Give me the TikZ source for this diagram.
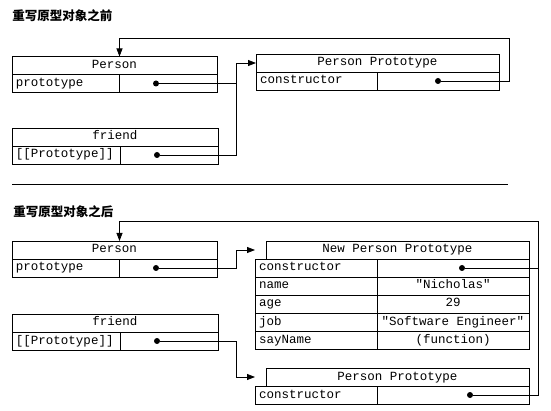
\documentclass[tikz,border=0pt]{standalone}
\usepackage{fontspec}
\setmonofont{Liberation Mono}
\newfontfamily\cjk{Noto Sans CJK SC}
\usetikzlibrary{positioning,arrows.meta}
\newcommand\cellfont{\ttfamily\fontsize{12.5}{14}\selectfont}
\tikzset{hdr/.style     = {rectangle, draw, minimum height=18pt, inner sep=0pt, outer sep=0pt,
		text height=9pt, text depth=3pt, font=\cellfont},
	keycell/.style = {rectangle, draw, text width=#1, align=left, minimum height=18pt, inner xsep=4pt,
		inner ysep=0pt, outer sep=0pt, text height=9pt, text depth=3pt, font=\cellfont},
	valcell/.style = {rectangle, draw, minimum width=#1, minimum height=18pt, inner sep=0pt,
		outer sep=0pt, text height=9pt, text depth=3pt, font=\cellfont},
	dot/.style     = {circle, fill, inner sep=0pt, minimum size=6pt},
	line/.style    = {draw, -{Triangle[length=8pt,width=6pt]}},
	title/.style   = {anchor=west, inner sep=0pt, font=\cjk\bfseries\fontsize{12.5}{14}\selectfont}
}
\begin{document}
\begin{tikzpicture}[x=1pt, y=-1pt, line width=0.8pt]
		\useasboundingbox (0,0) rectangle (551,411);
		% before
		\node [title] (tA) at (12,16) {重写原型对象之前};
		\node [hdr, minimum width=205pt] (pAh) at (114.5,65.5) {Person};
		\node [keycell=99pt, below right=0pt of pAh.south west] (pAk) {prototype};
		\node [valcell=98pt, right=0pt of pAk] (pAv) {};
		\node [hdr, minimum width=243pt] (ppAh) at (377.5,63) {Person Prototype};
		\node [keycell=113pt, below right=0pt of ppAh.south west] (ppAk) {constructor};
		\node [valcell=122pt, right=0pt of ppAk] (ppAv) {};
		\node [hdr, minimum width=206pt] (fAh) at (115,137) {friend};
		\node [keycell=100pt, below right=0pt of fAh.south west] (fAk) {[[Prototype]]};
		\node [valcell=98pt, right=0pt of fAk] (fAv) {};
		\node [dot] (pAd) at ([xshift=-12pt]pAv.center) {};
		\node [dot] (ppAd) at (ppAv.center) {};
		\node [dot] (fAd) at ([xshift=-12pt]fAv.center) {};
		\coordinate (jA) at ([xshift=-20pt]ppAh.west);
		\coordinate (loopA) at ([xshift=10pt,yshift=16pt]ppAh.north east);
		\draw (pAd) -- (pAd -| jA);
		\path[line] (fAd) -| (jA) -- (ppAh.west);
		\path[line] (ppAd) -| (loopA) -| ([xshift=5pt]pAh.north);
		\draw (12,184) -- (508,184);
		% after
		\node [title] (tB) at (13,212) {重写原型对象之后};
		\node [hdr, minimum width=205pt] (pBh) at (114.5,250) {Person};
		\node [keycell=99pt, below right=0pt of pBh.south west] (pBk) {prototype};
		\node [valcell=98pt, right=0pt of pBk] (pBv) {};
		\node [hdr, minimum width=206pt] (fBh) at (115,323) {friend};
		\node [keycell=100pt, below right=0pt of fBh.south west] (fBk) {[[Prototype]]};
		\node [valcell=98pt, right=0pt of fBk] (fBv) {};
		\node [hdr, minimum width=263pt] (nh) at (397.5,250) {New Person Prototype};
		\node [keycell=114pt, anchor=north west] (nk1) at ([xshift=-11pt]nh.south west) {constructor};
		\node [valcell=152pt, right=0pt of nk1] (nv1) {};
		\node [keycell=114pt, below=0pt of nk1] (nk2) {name};
		\node [valcell=152pt, right=0pt of nk2] (nv2) {"Nicholas"};
		\node [keycell=114pt, below=0pt of nk2] (nk3) {age};
		\node [valcell=152pt, right=0pt of nk3] (nv3) {29};
		\node [keycell=114pt, below=0pt of nk3] (nk4) {job};
		\node [valcell=152pt, right=0pt of nk4] (nv4) {"Software Engineer"};
		\node [keycell=114pt, below=0pt of nk4] (nk5) {sayName};
		\node [valcell=152pt, right=0pt of nk5] (nv5) {(function)};
		\node [hdr, minimum width=263pt] (ppBh) at (397.5,377) {Person Prototype};
		\node [keycell=114pt, anchor=north west] (ppBk) at ([xshift=-11pt]ppBh.south west) {constructor};
		\node [valcell=152pt, right=0pt of ppBk] (ppBv) {};
		\node [dot] (pBd) at ([xshift=-12pt]pBv.center) {};
		\node [dot] (fBd) at ([xshift=-12pt]fBv.center) {};
		\node [dot] (nd) at ([xshift=9pt]nv1.center) {};
		\node [dot] (ppBd) at ([xshift=17pt]ppBv.center) {};
		\coordinate (nin) at (nk1.west |- nh.west);
		\coordinate (bin) at (ppBk.west |- ppBh.west);
		\coordinate (loopB) at ([xshift=9pt,yshift=20pt]nh.north east);
		\path[line] (pBd) -| ([xshift=-19pt]nin) -- (nin);
		\path[line] (fBd) -| ([xshift=-19pt]bin) -- (bin);
		\draw (nd) -- (nd -| loopB);
		\path[line] (ppBd) -| (loopB) -| ([xshift=5pt]pBh.north);
	\end{tikzpicture}
\end{document}
